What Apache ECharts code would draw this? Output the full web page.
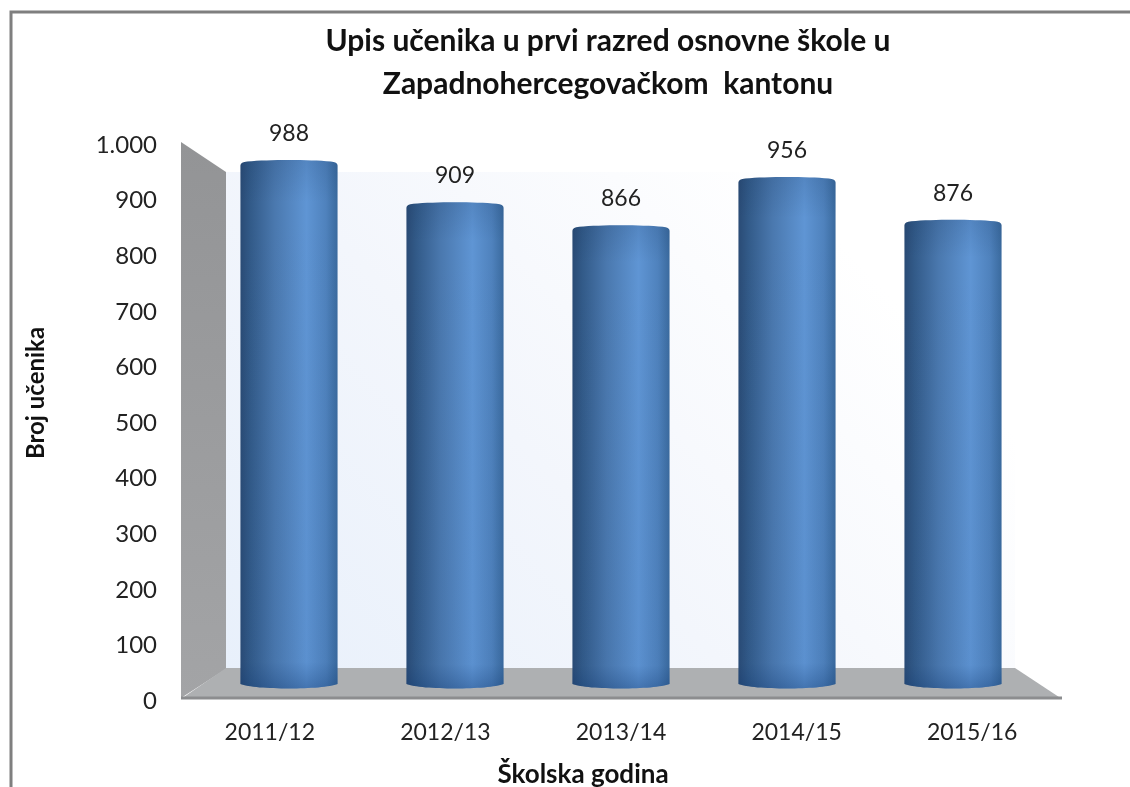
<!DOCTYPE html>
<html>
<head>
<meta charset="utf-8">
<title>Upis učenika</title>
<script src="https://cdn.jsdelivr.net/npm/echarts@6/dist/echarts.min.js"></script>
<style>
  html, body { margin: 0; padding: 0; background: #fff; }
  #chart { width: 1130px; height: 787px; }
</style>
</head>
<body>
<div id="chart"></div>
<script>
const years = ["2011/12", "2012/13", "2013/14", "2014/15", "2015/16"];
const students = [988, 909, 866, 956, 876];
const yTicks = ["0", "100", "200", "300", "400", "500", "600", "700", "800", "900", "1.000"];

const font = "Lato, 'Noto Sans', sans-serif";
const chart = echarts.init(document.getElementById("chart"));

// horizontal shading of the cylinder
const barFill = new echarts.graphic.LinearGradient(0, 0, 1, 0, [
  { offset: 0, color: "#2a4b75" },
  { offset: 0.1, color: "#325a88" },
  { offset: 0.35, color: "#4a78ae" },
  { offset: 0.68, color: "#5f95d4" },
  { offset: 0.88, color: "#4f82bd" },
  { offset: 1, color: "#3a6a9e" },
]);
const barShade = new echarts.graphic.LinearGradient(0, 0, 0, 1, [
  { offset: 0, color: "rgba(20,50,90,0.15)" },
  { offset: 0.08, color: "rgba(20,50,90,0)" },
  { offset: 0.95, color: "rgba(20,60,120,0.05)" },
  { offset: 1, color: "rgba(15,55,110,0.35)" },
]);

function renderCylinder(params, api) {
  const [cx, top] = api.coord([api.value(0), api.value(1)]);
  const bottom = api.coord([api.value(0), 0])[1];
  const w = api.size([1, 0])[0] * 0.585;
  const l = cx - w / 2;
  const r = cx + w / 2;
  const d = 5;
  const path =
    "M" + l + " " + (top + 5) +
    "Q" + l + " " + (top + 1.5) + " " + (l + 7) + " " + (top + 1) +
    "C" + (l + w * 0.3) + " " + (top - 1) + " " + (r - w * 0.3) + " " + (top - 1) + " " + (r - 7) + " " + (top + 1) +
    "Q" + r + " " + (top + 1.5) + " " + r + " " + (top + 5) +
    "L" + r + " " + (bottom - d) +
    "C" + (r - w * 0.15) + " " + (bottom + 1) + " " + (l + w * 0.15) + " " + (bottom + 1) + " " + l + " " + (bottom - d) + "Z";
  return {
    type: "group",
    children: [
      { type: "path", shape: { pathData: path }, style: { fill: barFill } },
      { type: "path", shape: { pathData: path }, style: { fill: barShade } },
      {
        type: "text",
        style: {
          text: String(api.value(1)),
          x: cx,
          y: top - 27,
          align: "center",
          verticalAlign: "middle",
          fill: "#222",
          font: "23px " + font,
        },
      },
    ],
  };
}

const option = {
  animation: false,
  backgroundColor: "#fff",
  title: [
    {
      text: "Upis učenika u prvi razred osnovne škole u\nZapadnohercegovačkom  kantonu",
      left: 603,
      top: 15,
      textAlign: "center",
      textStyle: { fontFamily: font, fontWeight: "bold", fontSize: 30, lineHeight: 43, color: "#111" },
    },
    {
      text: "Školska godina",
      left: 578,
      top: 757,
      textAlign: "center",
      textStyle: { fontFamily: font, fontWeight: "bold", fontSize: 26, color: "#111" },
    },
  ],
  // frame and the 3D walls sit behind the series
  graphic: [
    { type: "polyline", shape: { points: [[11, 787], [11, 12], [1130, 12]] }, style: { stroke: "#7f7f7f", lineWidth: 3, fill: null } },
    {
      type: "rect",
      shape: { x: 226, y: 172, width: 789, height: 497 },
      style: {
        fill: new echarts.graphic.LinearGradient(0, 1, 0.7, 0, [
          { offset: 0, color: "#e8f0fb" },
          { offset: 0.5, color: "#f3f6fc" },
          { offset: 1, color: "#ffffff" },
        ]),
      },
    },
    {
      type: "polygon",
      shape: { points: [[181, 142], [226, 172], [226, 669], [181, 698]] },
      style: {
        fill: new echarts.graphic.LinearGradient(0, 0, 0, 1, [
          { offset: 0, color: "#939496" },
          { offset: 1, color: "#a3a4a6" },
        ]),
      },
    },
    { type: "polygon", shape: { points: [[181, 699], [226, 668], [1015, 668], [1062, 699]] }, style: { fill: "#aeb0b2" } },
    { type: "line", shape: { x1: 181, y1: 698, x2: 1062, y2: 698 }, style: { stroke: "#8c8d8f", lineWidth: 3 } },
    {
      type: "text",
      x: 36,
      y: 393,
      rotation: Math.PI / 2,
      style: { text: "Broj učenika", align: "center", verticalAlign: "middle", fill: "#111", font: "bold 24px " + font },
    },
  ],
  grid: [
    { left: 182, width: 878, top: 145, height: 556 },
    { left: 206, width: 830, top: 154, height: 535 },
  ],
  xAxis: [
    {
      type: "category",
      gridIndex: 0,
      data: years,
      axisLine: { show: false },
      axisTick: { show: false },
      axisLabel: { margin: 20, fontFamily: font, fontSize: 23, color: "#222" },
    },
    { type: "category", gridIndex: 1, data: years, show: false },
  ],
  yAxis: [
    {
      type: "value",
      gridIndex: 0,
      min: 0,
      max: 1000,
      interval: 100,
      axisLine: { show: false },
      axisTick: { show: false },
      splitLine: { show: false },
      axisLabel: {
        margin: 25,
        fontFamily: font,
        fontSize: 24,
        color: "#222",
        formatter: (v) => yTicks[Math.round(v / 100)],
      },
    },
    { type: "value", gridIndex: 1, min: 0, max: 1000, show: false },
  ],
  series: [
    {
      type: "custom",
      xAxisIndex: 1,
      yAxisIndex: 1,
      renderItem: renderCylinder,
      encode: { x: 0, y: 1 },
      data: years.map((y, i) => [i, students[i]]),
    },
  ],
};
chart.setOption(option);
</script>
</body>
</html>
